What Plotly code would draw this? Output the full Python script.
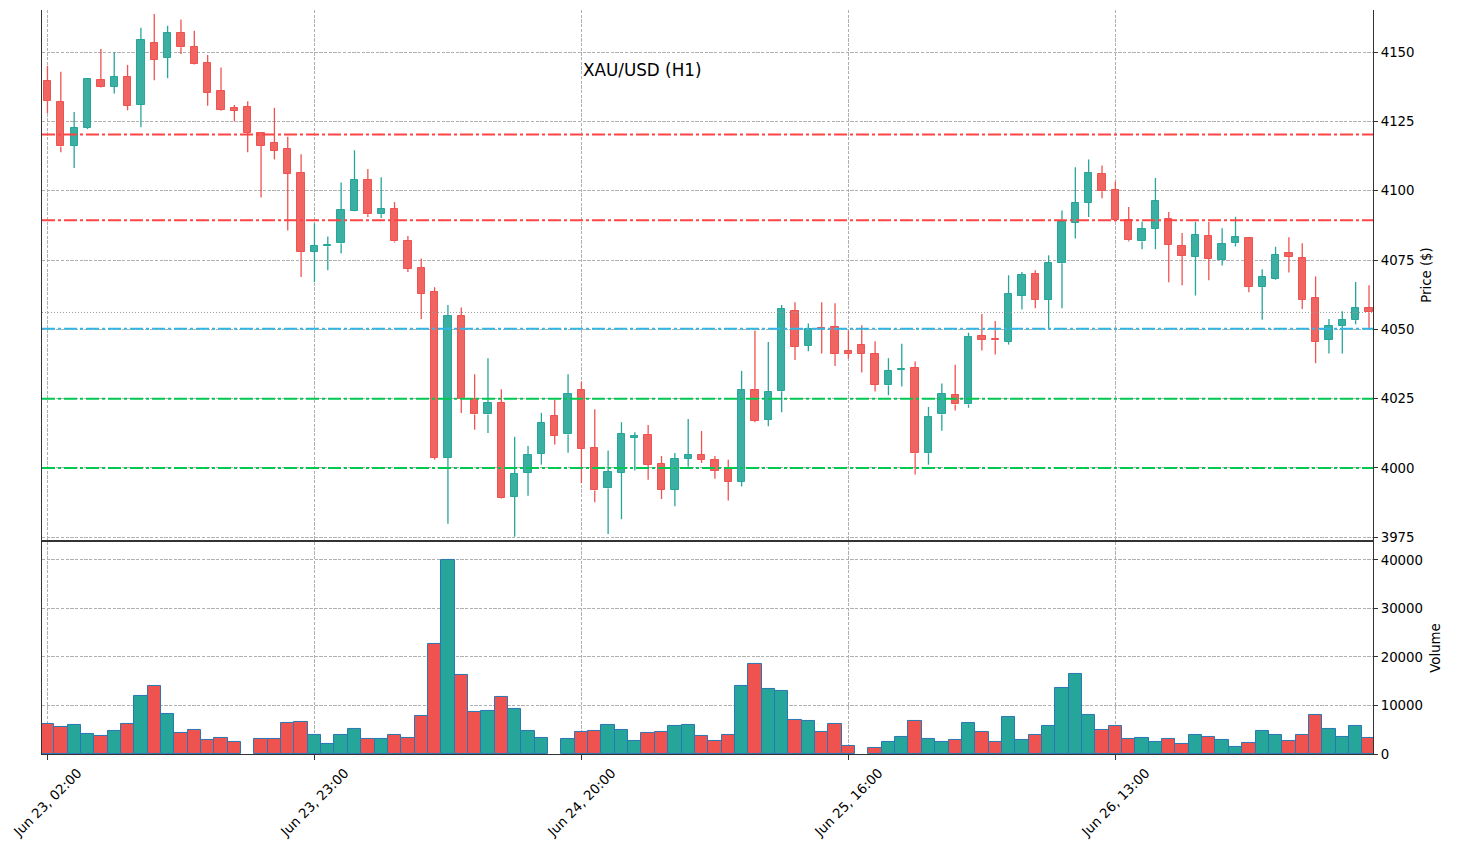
import plotly.graph_objects as go

# ---------------- data ----------------
opens = [4139.6, 4132.1, 4116.3, 4122.8, 4139.9, 4137.6, 4141.1, 4131.1, 4153.3, 4148.0,
         4157.0, 4152.0, 4146.1, 4136.0, 4129.9, 4130.2, 4120.7, 4117.3, 4115.1, 4106.5,
         4078.0, 4080.0, 4081.0, 4092.8, 4103.9, 4091.5, 4093.4, 4082.0, 4072.2, 4063.5,
         4003.7, 4054.8, 4025.0, 4019.3, 4023.4, 3989.6, 3998.3, 4005.1, 4018.8, 4012.1,
         4028.0, 4007.1, 3992.6, 3998.3, 4010.9, 4011.9, 4001.5, 3992.2, 4003.4, 4004.6,
         4002.9, 3999.9, 3995.1, 4028.0, 4017.4, 4027.7, 4056.8, 4044.1, 4050.4, 4050.7,
         4042.1, 4044.3, 4041.0, 4029.8, 4035.5, 4036.1, 4005.3, 4019.3, 4026.2, 4022.9,
         4047.6, 4046.3, 4045.6, 4062.2, 4069.9, 4060.7, 4073.8, 4088.5, 4095.7, 4106.0,
         4100.1, 4089.6, 4081.7, 4086.3, 4089.8, 4080.1, 4076.2, 4083.5, 4075.1, 4081.1,
         4082.8, 4065.4, 4068.2, 4077.4, 4075.6, 4061.2, 4046.3, 4051.3, 4053.3, 4057.6]
highs = [4145.1, 4142.9, 4128.4, 4140.3, 4151.1, 4150.0, 4145.4, 4158.8, 4163.8, 4159.5,
         4161.8, 4157.7, 4149.0, 4144.5, 4130.9, 4132.3, 4120.9, 4129.9, 4119.5, 4113.2,
         4088.2, 4083.5, 4103.0, 4114.6, 4107.8, 4104.9, 4095.9, 4083.7, 4075.6, 4065.2,
         4058.8, 4057.9, 4033.8, 4039.6, 4028.4, 4011.3, 4007.9, 4019.9, 4024.6, 4033.8,
         4031.1, 4021.2, 4006.3, 4016.5, 4012.9, 4015.5, 4004.3, 4005.4, 4017.7, 4013.3,
         4004.3, 4003.0, 4035.0, 4049.6, 4045.4, 4058.8, 4059.8, 4052.1, 4059.8, 4059.4,
         4049.6, 4051.5, 4045.7, 4039.6, 4044.8, 4038.4, 4022.0, 4030.5, 4037.2, 4048.8,
         4055.5, 4053.0, 4069.5, 4070.7, 4071.3, 4076.7, 4092.9, 4108.5, 4111.3, 4109.1,
         4103.3, 4094.1, 4088.8, 4104.6, 4092.3, 4084.8, 4088.8, 4088.7, 4086.5, 4090.6,
         4083.2, 4071.7, 4079.8, 4083.2, 4081.1, 4069.1, 4053.7, 4056.5, 4067.1, 4065.9]
lows = [4128.0, 4113.9, 4108.2, 4122.2, 4137.2, 4135.1, 4129.0, 4122.9, 4139.9, 4140.6,
        4149.3, 4145.5, 4130.7, 4128.9, 4125.0, 4113.9, 4097.6, 4111.3, 4085.7, 4068.9,
        4067.0, 4071.3, 4077.4, 4092.6, 4090.5, 4090.2, 4081.3, 4070.7, 4053.7, 4003.0,
        3979.9, 4019.8, 4013.8, 4012.6, 3989.0, 3975.2, 3990.0, 4001.2, 4008.5, 4005.5,
        3994.5, 3987.6, 3976.2, 3981.5, 3999.1, 3995.7, 3988.8, 3986.2, 4000.4, 4001.8,
        3996.1, 3988.3, 3993.3, 4016.5, 4015.0, 4020.1, 4038.9, 4042.1, 4041.3, 4036.8,
        4039.4, 4034.4, 4027.6, 4026.2, 4029.4, 3997.6, 4001.2, 4013.4, 4020.7, 4021.7,
        4042.4, 4040.9, 4044.5, 4057.2, 4057.6, 4050.4, 4057.6, 4082.8, 4090.5, 4097.3,
        4088.9, 4081.7, 4078.9, 4078.9, 4067.0, 4065.9, 4062.2, 4067.7, 4073.0, 4079.9,
        4063.4, 4053.5, 4067.9, 4070.5, 4057.3, 4037.8, 4041.3, 4041.3, 4051.8, 4050.2]
closes = [4132.3, 4116.0, 4122.7, 4140.2, 4137.6, 4141.1, 4130.7, 4154.4, 4147.3, 4157.0,
          4151.8, 4145.9, 4135.4, 4129.3, 4128.9, 4121.0, 4116.3, 4114.5, 4106.2, 4078.0,
          4080.1, 4080.6, 4093.0, 4103.9, 4091.5, 4093.4, 4081.7, 4071.8, 4062.9, 4003.7,
          4054.8, 4025.0, 4019.3, 4023.4, 3989.3, 3997.8, 4004.5, 4016.2, 4011.7, 4026.6,
          4006.9, 3991.9, 3998.4, 4012.3, 4011.5, 4001.2, 3992.2, 4003.3, 4004.6, 4003.0,
          3998.9, 3995.1, 4028.0, 4017.1, 4027.3, 4057.2, 4043.8, 4050.0, 4050.1, 4041.2,
          4041.2, 4041.2, 4030.1, 4035.1, 4035.7, 4005.3, 4018.3, 4026.6, 4022.9, 4047.2,
          4046.3, 4046.1, 4062.8, 4069.5, 4060.7, 4074.0, 4088.8, 4095.5, 4106.3, 4099.8,
          4089.3, 4082.1, 4086.2, 4096.2, 4080.6, 4076.6, 4083.9, 4075.5, 4080.9, 4083.2,
          4065.4, 4068.8, 4076.7, 4076.2, 4060.7, 4045.6, 4051.1, 4053.3, 4057.6, 4056.1]
volumes = [6186, 5567, 5979, 4124, 3711, 4742, 6186, 11959, 14021, 8247,
           4330, 4948, 2887, 3299, 2474, 0, 3093, 3093, 6392, 6598,
           3918, 2062, 3918, 5155, 3093, 3093, 3918, 3299, 7835, 22680,
           40000, 16289, 8660, 8866, 11753, 9278, 4742, 3299, 0, 3093,
           4536, 4742, 5979, 4948, 2680, 4330, 4536, 5773, 5979, 3711,
           2680, 3918, 14021, 18557, 13402, 12990, 7010, 6804, 4536, 6186,
           1649, 0, 1237, 2474, 3505, 6804, 3093, 2474, 2887, 6392,
           4536, 2474, 7629, 2887, 3918, 5773, 13608, 16495, 8041, 4948,
           5773, 3093, 3299, 2474, 3093, 2062, 3918, 3505, 2887, 1443,
           2268, 4742, 3918, 2680, 3918, 8041, 5155, 3505, 5773, 3299]
tick_idx = [0, 20, 40, 60, 80]
tick_labels = ["Jun 23, 02:00", "Jun 23, 23:00", "Jun 24, 20:00", "Jun 25, 16:00", "Jun 26, 13:00"]
resistance_levels = [4120.3, 4089.4]
pivot_levels = [4050.2]
support_levels = [4025.0, 4000.0]
chart_title = "XAU/USD (H1)"

# ---------------- styling ----------------
UP = "#26A69A"
DOWN = "#EF5350"
UP_FILL = "rgb(60,175,163)"
DOWN_FILL = "rgb(240,100,97)"
FONT = "DejaVu Sans"
LEVEL_DASH = "13px,3px,3px,3px"

n = len(opens)
idx = list(range(n))
is_up = [c >= o for o, c in zip(opens, closes)]

fig = go.Figure()

# wicks (upper + lower parts, split by direction)
for up_flag, col in [(True, UP), (False, DOWN)]:
    wx, wy = [], []
    for i in idx:
        if is_up[i] != up_flag:
            continue
        top = max(opens[i], closes[i])
        bot = min(opens[i], closes[i])
        wx += [i, i, None, i, i, None]
        wy += [highs[i], top, None, bot, lows[i], None]
    fig.add_trace(go.Scatter(x=wx, y=wy, mode="lines", line=dict(color=col, width=1.3),
                             hoverinfo="skip", showlegend=False, xaxis="x", yaxis="y"))

# bodies
bases = [min(o, c) for o, c in zip(opens, closes)]
heights = [max(abs(c - o), 0.25) for o, c in zip(opens, closes)]
fig.add_trace(go.Bar(
    x=idx, y=heights, base=bases, width=0.55,
    marker=dict(color=[UP_FILL if u else DOWN_FILL for u in is_up],
                line=dict(color=[UP if u else DOWN for u in is_up], width=1)),
    showlegend=False, xaxis="x", yaxis="y"))

# volume
fig.add_trace(go.Bar(
    x=idx, y=volumes, width=1.0,
    marker=dict(color=[UP if u else DOWN for u in is_up],
                line=dict(color="#2a77b4", width=[1 if v > 0 else 0 for v in volumes])),
    showlegend=False, xaxis="x2", yaxis="y2"))

shapes = []
def hline(y, color, dash, width):
    shapes.append(dict(type="line", xref="x domain", yref="y", x0=0, x1=1, y0=y, y1=y,
                       line=dict(color=color, dash=dash, width=width), layer="above"))

hline(closes[-1], "#999999", "1px,2px", 1)
for lv in resistance_levels:
    hline(lv, "#FF4444", LEVEL_DASH, 2)
for lv in pivot_levels:
    hline(lv, "#33B5E5", LEVEL_DASH, 2)
for lv in support_levels:
    hline(lv, "#00C851", LEVEL_DASH, 2)

annotations = []
for t, lab in zip(tick_idx, tick_labels):
    annotations.append(dict(x=t, y=0, xref="x2", yref="paper", text=lab, showarrow=False,
                            textangle=-45, xanchor="center", yanchor="middle", yshift=-48,
                            font=dict(family=FONT, size=13.33, color="black")))
annotations.append(dict(x=0.4512, y=0.92, xref="paper", yref="paper", text=chart_title,
                        showarrow=False, xanchor="center", yanchor="middle",
                        font=dict(family=FONT, size=16.8, color="black")))

grid = dict(showgrid=True, gridcolor="#b0b0b0", griddash="3.3px,1.4px", gridwidth=1)
line = dict(showline=True, linecolor="#333333", linewidth=1)

fig.update_layout(
    width=1457, height=849,
    margin=dict(l=42, r=84, t=10, b=95),
    paper_bgcolor="white", plot_bgcolor="white",
    font=dict(family=FONT, size=13.33, color="black"),
    barmode="overlay", bargap=0,
    showlegend=False,
    shapes=shapes, annotations=annotations,
    xaxis=dict(domain=[0, 1], anchor="y", range=[-0.41, 99.3], tickvals=tick_idx,
               showticklabels=False, ticks="", zeroline=False, **grid, **line, mirror=False),
    yaxis=dict(domain=[0.2876, 1], anchor="x", side="right", range=[3974.0, 4165.2],
               tick0=3975, dtick=25, ticks="outside", ticklen=4, tickcolor="#333333",
               zeroline=False, **grid, **line, mirror=True,
               title=dict(text="Price ($)", standoff=8, font=dict(size=13.33))),
    xaxis2=dict(domain=[0, 1], anchor="y2", range=[-0.41, 99.3], tickvals=tick_idx,
                showticklabels=False, ticks="outside", ticklen=5, tickcolor="#333333",
                zeroline=False, **grid, **line, mirror=True),
    yaxis2=dict(domain=[0, 0.285], anchor="x2", side="right", range=[0, 43700],
                tick0=0, dtick=10000, tickformat="d", ticks="outside", ticklen=4,
                tickcolor="#333333", zeroline=False, **grid, **line, mirror=True,
                title=dict(text="Volume", standoff=8, font=dict(size=13.33))),
)

fig.write_html("out.html")
